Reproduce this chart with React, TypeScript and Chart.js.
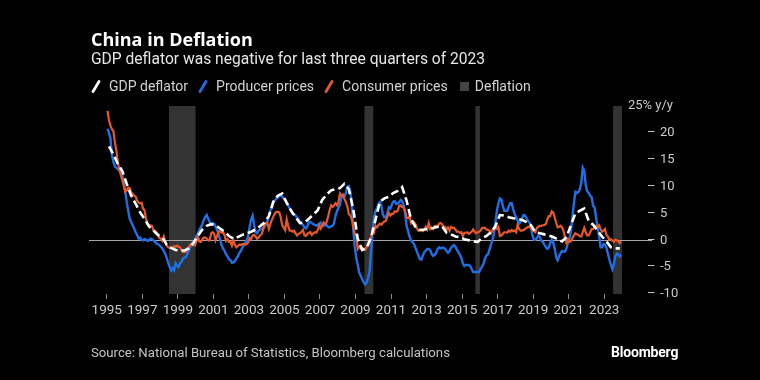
import React, { useEffect, useRef } from 'react';
import { Chart, registerables } from 'chart.js';

Chart.register(...registerables);

const startYear = 1995;
const xMin = 1994;
const xMax = 2024;
const xTickYears = [1995, 1997, 1999, 2001, 2003, 2005, 2007, 2009, 2011, 2013, 2015, 2017, 2019, 2021, 2023];
const yTickValues = [-10, -5, 0, 5, 10, 15, 20, 25];
const yMin = -10;
const yMax = 25;

// Consumer prices, % y/y, monthly from Jan 1995
const cpi = [
  24.1, 22.4, 21.3, 20.7, 20.3, 18.2, 16.7, 14.5, 13.2, 12.1, 11.2, 10.1,
  9.0, 9.3, 9.8, 9.7, 8.9, 8.6, 8.3, 8.1, 7.4, 7.0, 6.9, 7.0,
  5.9, 5.6, 4.0, 3.2, 2.8, 2.8, 2.7, 1.9, 1.8, 1.5, 1.1, 0.4,
  0.3, -0.1, 0.7, -0.3, -1.0, -1.3, -1.4, -1.4, -1.5, -1.1, -1.2, -1.0,
  -1.2, -1.3, -1.8, -2.2, -2.2, -2.1, -1.4, -1.3, -0.8, -0.6, -0.9, -1.0,
  -0.2, 0.7, -0.2, -0.3, 0.1, 0.5, 0.5, 0.3, 0.0, 0.0, 1.3, 1.5,
  1.2, 0.0, 0.8, 1.6, 1.7, 1.4, 1.5, 1.0, -0.1, 0.2, -0.3, -0.3,
  -1.0, 0.0, -0.8, -1.3, -1.1, -0.8, -0.9, -0.7, -0.7, -0.8, -0.7, -0.4,
  0.4, 0.2, 0.9, 1.0, 0.7, 0.3, 0.5, 0.9, 1.1, 1.8, 3.0, 3.2,
  3.2, 2.1, 3.0, 3.8, 4.4, 5.0, 5.3, 5.3, 5.2, 4.3, 2.8, 2.4,
  1.9, 3.9, 2.7, 1.8, 1.8, 1.6, 1.8, 1.3, 0.9, 1.2, 1.3, 1.6,
  1.9, 0.9, 0.8, 1.2, 1.4, 1.5, 1.0, 1.3, 1.5, 1.4, 1.9, 2.8,
  2.2, 2.7, 3.3, 3.0, 3.4, 4.4, 5.6, 6.5, 6.2, 6.5, 6.9, 6.5,
  7.1, 8.7, 8.3, 8.5, 7.7, 7.1, 6.3, 4.9, 4.6, 4.0, 2.4, 1.2,
  1.0, -1.6, -1.2, -1.5, -1.4, -1.7, -1.8, -1.2, -0.8, -0.5, 0.6, 1.9,
  1.5, 2.7, 2.4, 2.8, 3.1, 2.9, 3.3, 3.5, 3.6, 4.4, 5.1, 4.6,
  4.9, 4.9, 5.4, 5.3, 5.5, 6.4, 6.5, 6.2, 6.1, 5.5, 4.2, 4.1,
  4.5, 3.2, 3.6, 3.4, 3.0, 2.2, 1.8, 2.0, 1.9, 1.7, 2.0, 2.5,
  2.0, 3.2, 2.1, 2.4, 2.1, 2.7, 2.7, 2.6, 3.1, 3.2, 3.0, 2.5,
  2.5, 2.0, 2.4, 1.8, 2.5, 2.3, 2.3, 2.0, 1.6, 1.6, 1.4, 1.5,
  0.8, 1.4, 1.4, 1.5, 1.2, 1.4, 1.6, 2.0, 1.6, 1.3, 1.5, 1.6,
  1.8, 2.3, 2.3, 2.3, 2.0, 1.9, 1.8, 1.3, 1.9, 2.1, 2.3, 2.1,
  2.5, 0.8, 0.9, 1.2, 1.5, 1.5, 1.4, 1.8, 1.6, 1.9, 1.7, 1.8,
  1.5, 2.9, 2.1, 1.8, 1.8, 1.9, 2.1, 2.3, 2.5, 2.5, 2.2, 1.9,
  1.7, 1.5, 2.3, 2.5, 2.7, 2.7, 2.8, 2.8, 3.0, 3.8, 4.5, 4.5,
  5.4, 5.2, 4.3, 3.3, 2.4, 2.5, 2.7, 2.4, 1.7, 0.5, -0.5, 0.2,
  -0.3, -0.2, 0.4, 0.9, 1.3, 1.1, 1.0, 0.8, 0.7, 1.5, 2.3, 1.5,
  0.9, 0.9, 1.5, 2.1, 2.1, 2.5, 2.7, 2.5, 2.8, 2.1, 1.6, 1.8,
  2.1, 1.0, 0.7, 0.1, 0.2, 0.0, -0.3, 0.1, 0.0, -0.2, -0.5, -0.3,
];

// Producer prices, % y/y, monthly from Jan 1995
const ppi = [
  20.8, 20.0, 18.9, 15.8, 14.6, 13.7, 13.5, 13.2, 13.0, 12.7, 12.0, 10.9,
  9.0, 7.1, 5.5, 4.0, 3.4, 2.8, 2.2, 1.5, 1.0, 0.3, 0.5, 0.1,
  0.0, 0.2, 0.1, -0.1, 0.0, 0.3, 0.2, 0.0, -0.3, -0.6, -0.7, -0.9,
  -1.2, -1.5, -2.0, -2.5, -3.3, -4.2, -5.0, -5.6, -5.2, -5.6, -4.3, -4.8,
  -5.0, -4.3, -4.0, -3.4, -3.2, -3.1, -2.5, -1.9, -1.2, -0.9, -0.6, 0.2,
  0.8, 1.2, 1.9, 2.4, 3.0, 3.8, 4.3, 4.7, 4.0, 3.4, 3.1, 3.2,
  3.1, 2.5, 1.9, 1.2, 0.2, -0.9, -1.5, -1.9, -2.6, -3.0, -3.5, -3.7,
  -4.2, -4.1, -3.9, -3.4, -3.0, -2.4, -2.0, -1.4, -0.9, -0.5, 0.0, 0.8,
  2.5, 3.9, 4.6, 2.9, 1.5, 1.3, 1.8, 2.0, 2.1, 2.3, 2.5, 3.0,
  3.5, 4.5, 5.6, 6.0, 7.0, 7.4, 7.7, 8.0, 8.3, 8.4, 8.1, 7.8,
  7.4, 6.9, 6.5, 6.0, 5.6, 5.0, 4.9, 4.6, 4.2, 4.0, 3.4, 3.1,
  2.9, 2.4, 2.2, 2.6, 3.4, 3.4, 3.2, 3.0, 2.9, 2.7, 2.9, 3.1,
  3.3, 2.6, 2.7, 2.8, 2.8, 2.5, 2.4, 2.6, 2.7, 3.2, 4.6, 5.4,
  6.1, 6.6, 8.0, 8.1, 8.2, 8.8, 10.0, 10.1, 9.1, 6.6, 2.0, -1.1,
  -3.3, -4.5, -6.0, -6.6, -7.2, -7.8, -8.2, -7.9, -7.0, -5.8, -2.1, 1.7,
  4.3, 5.4, 5.9, 6.8, 7.1, 6.4, 4.8, 4.3, 4.3, 5.0, 6.1, 5.9,
  6.6, 7.2, 7.3, 6.8, 6.8, 7.1, 7.5, 7.3, 6.5, 5.0, 2.7, 1.7,
  0.7, 0.0, -0.3, -0.7, -1.4, -2.1, -2.9, -3.5, -3.6, -2.8, -2.2, -1.9,
  -1.6, -1.6, -1.9, -2.6, -2.9, -2.7, -2.3, -1.6, -1.3, -1.5, -1.4, -1.4,
  -1.6, -2.0, -2.3, -2.0, -1.4, -1.1, -0.9, -1.2, -1.8, -2.2, -2.7, -3.3,
  -4.3, -4.8, -4.6, -4.6, -4.6, -4.8, -5.4, -5.9, -5.9, -5.9, -5.9, -5.9,
  -5.3, -4.9, -4.3, -3.4, -2.8, -2.6, -1.7, -0.8, 0.1, 1.2, 3.3, 5.5,
  6.9, 7.8, 7.6, 6.4, 5.5, 5.5, 5.5, 6.3, 6.9, 6.9, 5.8, 4.9,
  4.3, 3.7, 3.1, 3.4, 4.1, 4.7, 4.6, 4.1, 3.6, 3.3, 2.7, 0.9,
  0.1, 0.1, 0.4, 0.9, 0.6, 0.0, -0.3, -0.8, -1.2, -1.6, -1.4, -0.5,
  0.1, -0.4, -1.5, -3.1, -3.7, -3.0, -2.4, -2.0, -2.1, -2.1, -1.5, -0.4,
  0.3, 1.7, 4.4, 6.8, 9.0, 8.8, 9.0, 9.5, 10.7, 13.5, 12.9, 10.3,
  9.1, 8.8, 8.3, 8.0, 6.4, 6.1, 4.2, 2.3, 0.9, -1.3, -1.3, -0.7,
  -0.8, -1.4, -2.5, -3.6, -4.6, -5.4, -4.4, -3.0, -2.5, -2.6, -3.0, -2.7,
];

// GDP deflator, % y/y, quarterly from Q1 1995
const gdpDeflator = [
  17.5, 16.0, 14.2, 12.9,
  10.5, 8.3, 6.8, 5.2,
  4.0, 2.6, 1.8, 1.0,
  0.5, -0.8, -1.4, -1.8,
  -1.9, -1.9, -1.5, -0.5,
  0.8, 2.0, 2.7, 3.0,
  2.8, 2.2, 1.6, 0.8,
  0.3, 0.6, 1.0, 1.3,
  1.6, 2.0, 2.6, 3.3,
  4.5, 7.2, 8.3, 8.7,
  7.0, 5.5, 4.3, 3.2,
  3.3, 4.0, 4.8, 5.6,
  7.5, 8.5, 9.3, 9.5,
  9.7, 10.5, 9.5, 5.8,
  0.3, -1.8, -1.4, 0.5,
  3.8, 7.2, 7.8, 8.1,
  8.8, 9.2, 9.9, 7.4,
  3.9, 2.5, 1.9, 2.0,
  2.2, 2.3, 2.5, 2.6,
  1.4, 1.1, 0.7, 0.6,
  0.2, 0.0, -0.2, -0.3,
  0.4, 0.8, 1.5, 2.6,
  4.7, 4.6, 4.3, 4.1,
  4.0, 3.8, 3.4, 2.8,
  1.5, 1.3, 1.1, 0.9,
  0.6, 0.2, -0.2, 0.6,
  2.8, 5.0, 5.5, 5.9,
  3.6, 2.9, 1.8, 0.7,
  -0.2, -1.3, -1.5, -1.5,
];

// Deflation periods (decimal years)
const deflationStart = [1998.5, 2009.5, 2015.75, 2023.5];
const deflationEnd = [2000.0, 2010.0, 2016.0, 2024.0];

const FONT = 'Roboto, "Noto Sans", sans-serif';
const TITLE_FONT = '"Open Sans", Roboto, sans-serif';
const AXIS_COLOR = '#cbcbcb';
const WHITE = '#ffffff';
const BLUE = '#1f6fe6';
const ORANGE = '#e9582b';
const SHADE = '#333333';

const monthly = (vals: number[]) => vals.map((v, i) => ({ x: startYear + (i + 0.5) / 12, y: v }));
const quarterly = (vals: number[]) => vals.map((v, i) => ({ x: startYear + (i + 0.5) / 4, y: v }));

const overlayPlugin = {
  id: 'overlay',
  beforeDatasetsDraw(chart: any) {
    const { ctx, chartArea, scales } = chart;
    const x = scales.x;
    const y = scales.y;
    ctx.save();
    ctx.fillStyle = SHADE;
    deflationStart.forEach((s, i) => {
      const x0 = x.getPixelForValue(s);
      const x1 = x.getPixelForValue(deflationEnd[i]);
      ctx.fillRect(x0, chartArea.top, x1 - x0, chartArea.bottom - chartArea.top);
    });
    const y0 = Math.round(y.getPixelForValue(0)) + 0.5;
    ctx.strokeStyle = '#a5a5a5';
    ctx.lineWidth = 1;
    ctx.beginPath();
    ctx.moveTo(chartArea.left, y0);
    ctx.lineTo(chartArea.right + 30, y0);
    ctx.stroke();
    ctx.restore();
  },
  afterDraw(chart: any) {
    const { ctx, chartArea, scales } = chart;
    const y = scales.y;
    ctx.save();
    ctx.fillStyle = AXIS_COLOR;
    ctx.font = `13px ${FONT}`;
    ctx.textBaseline = 'middle';
    ctx.textAlign = 'left';
    y.ticks.forEach((t: any) => {
      const py = y.getPixelForValue(t.value);
      if (t.value === yMax) {
        ctx.fillText('25% y/y', chartArea.right + 6, py);
      } else {
        ctx.fillText('–', chartArea.right + 25, py);
      }
    });
    ctx.restore();
  },
};

function ChinaChart() {
  const ref = useRef<HTMLCanvasElement | null>(null);
  useEffect(() => {
    if (!ref.current) return;
    const chart = new Chart(ref.current, {
      type: 'line',
      data: {
        datasets: [
          {
            label: 'GDP deflator',
            data: quarterly(gdpDeflator),
            borderColor: WHITE,
            borderWidth: 2.6,
            borderDash: [8, 4],
            pointRadius: 0,
          },
          {
            label: 'Consumer prices',
            data: monthly(cpi),
            borderColor: ORANGE,
            borderWidth: 2.2,
            pointRadius: 0,
          },
          {
            label: 'Producer prices',
            data: monthly(ppi),
            borderColor: BLUE,
            borderWidth: 2.4,
            pointRadius: 0,
          },
        ],
      },
      options: {
        animation: false,
        responsive: false,
        maintainAspectRatio: false,
        layout: { padding: { left: 89, top: 106, right: 0, bottom: 56 } },
        plugins: { legend: { display: false }, tooltip: { enabled: false } },
        elements: { line: { tension: 0 }, point: { radius: 0 } },
        scales: {
          x: {
            type: 'linear',
            min: xMin,
            max: xMax,
            afterBuildTicks: (s: any) => {
              s.ticks = xTickYears.map((v) => ({ value: v }));
            },
            afterFit: (s: any) => {
              s.height = 30;
              s.paddingLeft = 0;
              s.paddingRight = 0;
            },
            grid: { display: true, drawOnChartArea: false, drawTicks: true, tickLength: 5, color: '#8a8a8a', lineWidth: 1 },
            border: { display: false },
            ticks: {
              color: AXIS_COLOR,
              font: { family: FONT, size: 13.5 },
              padding: 4,
              maxRotation: 0,
              autoSkip: false,
              callback: (v: any) => String(v),
            },
          },
          y: {
            type: 'linear',
            position: 'right',
            min: yMin,
            max: yMax,
            afterBuildTicks: (s: any) => {
              s.ticks = yTickValues.map((v) => ({ value: v }));
            },
            afterFit: (s: any) => {
              s.width = 138;
              s.paddingTop = 0;
              s.paddingBottom = 0;
            },
            grid: { display: false, drawTicks: false },
            border: { display: false },
            ticks: {
              color: AXIS_COLOR,
              font: { family: FONT, size: 13 },
              padding: 38,
              callback: (v: any) => (v === yMax ? '' : String(v)),
            },
          },
        },
      },
      plugins: [overlayPlugin],
    } as any);
    return () => chart.destroy();
  }, []);
  return <canvas ref={ref} width={760} height={380} style={{ position: 'absolute', left: 0, top: 0, width: 760, height: 380 }} />;
}

function Slash({ color }: { color: string }) {
  return (
    <svg width="10" height="13" style={{ display: 'block' }}>
      <line x1="2" y1="11.5" x2="8" y2="1.5" stroke={color} strokeWidth="2.8" strokeLinecap="round" />
    </svg>
  );
}

export default function App() {
  const legendText: React.CSSProperties = { color: '#d2d2d2', fontSize: 14, lineHeight: '16px', whiteSpace: 'nowrap' };
  return (
    <div
      style={{
        position: 'absolute',
        left: 0,
        top: 0,
        width: 760,
        height: 380,
        background: '#000',
        overflow: 'hidden',
        fontFamily: FONT,
      }}
    >
      <ChinaChart />
      <div style={{ position: 'absolute', left: 91, top: 30, color: '#fff', fontFamily: TITLE_FONT, fontSize: 18, fontWeight: 700, lineHeight: '18px', whiteSpace: 'nowrap' }}>
        China in Deflation
      </div>
      <div style={{ position: 'absolute', left: 91, top: 51.5, color: '#e6e6e6', fontSize: 15.6, lineHeight: '15.6px', whiteSpace: 'nowrap' }}>
        GDP deflator was negative for last three quarters of 2023
      </div>
      <div style={{ position: 'absolute', left: 91, top: 78, display: 'flex', alignItems: 'center' }}>
        <Slash color={WHITE} />
        <span style={{ ...legendText, marginLeft: 8, marginRight: 10 }}>GDP deflator</span>
        <Slash color={BLUE} />
        <span style={{ ...legendText, marginLeft: 8, marginRight: 10 }}>Producer prices</span>
        <Slash color={ORANGE} />
        <span style={{ ...legendText, marginLeft: 8, marginRight: 12 }}>Consumer prices</span>
        <div style={{ width: 9, height: 9, background: '#444' }} />
        <span style={{ ...legendText, marginLeft: 6 }}>Deflation</span>
      </div>
      <div style={{ position: 'absolute', left: 91, top: 346, color: '#c4c4c4', fontSize: 13.2, lineHeight: '13px', whiteSpace: 'nowrap' }}>
        Source: National Bureau of Statistics, Bloomberg calculations
      </div>
      <div style={{ position: 'absolute', left: 611, top: 345, color: '#fff', fontSize: 14, fontWeight: 700, lineHeight: '14px', whiteSpace: 'nowrap', letterSpacing: -0.2 }}>
        Bloomberg
      </div>
    </div>
  );
}
